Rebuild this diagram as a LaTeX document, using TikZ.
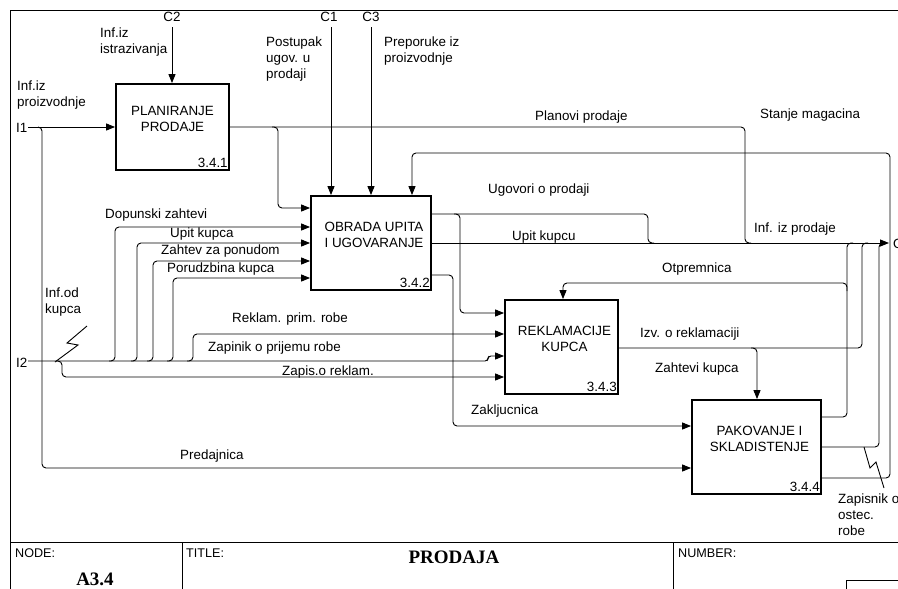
\documentclass[tikz,border=0pt]{standalone}
\usepackage{fontspec}
\setmainfont{Liberation Sans}
\newfontfamily\serifbold[BoldFont={Liberation Serif Bold}]{Liberation Serif}
\usetikzlibrary{arrows.meta,calc}

\begin{document}
\begin{tikzpicture}[x=1pt,y=-1pt,
  every node/.style={inner sep=0pt, font=\fontsize{13.4}{16}\selectfont},
  fn/.style={draw, line width=1.8pt, rectangle, minimum width=#1},
  conn/.style={line width=0.9pt, rounded corners=4pt},
  arr/.style={conn, -{Triangle[length=9pt,width=7pt]}},
  lbl/.style={anchor=base west},
  mlbl/.style={anchor=north west, align=left},
  boxtxt/.style={align=center},
  num/.style={anchor=south east},
  frameline/.style={line width=0.9pt},
  blocktxt/.style={anchor=base west, font=\fontsize{12.6}{15}\selectfont}
]
\useasboundingbox (0,0) rectangle (898,589);
\clip (0,0) rectangle (898,589);

% ---- sheet frame and title block ----
\draw[frameline] (898,10) -- (10,10) -- (10,589);
\draw[frameline] (10,542) -- (898,542);
\draw[frameline] (182,542) -- (182,589);
\draw[frameline] (673,542) -- (673,589);
\draw[frameline] (898,580) -- (846,580) -- (846,589);
\node[blocktxt] (tbNode) at (15,557) {NODE:};
\node[blocktxt] (tbTitle) at (186,557) {TITLE:};
\node[blocktxt] (tbNumber) at (678,557) {NUMBER:};
\node[anchor=base, font=\serifbold\bfseries\fontsize{19}{22}\selectfont] (tbA) at (95,585) {A3.4};
\node[anchor=base, font=\serifbold\bfseries\fontsize{19}{22}\selectfont] (tbName) at (454,563) {PRODAJA};

% ---- activity boxes ----
\node[fn=113pt, minimum height=86pt] (b1) at (172.5,127) {};
\node[fn=120pt, minimum height=94pt] (b2) at (371,243) {};
\node[fn=113pt, minimum height=94pt] (b3) at (561.5,347) {};
\node[fn=129pt, minimum height=94pt] (b4) at (756.5,447) {};

\node[boxtxt] (t1) at ([shift={(0,-8)}]b1.center) {PLANIRANJE\\PRODAJE};
\node[boxtxt] (t2) at ([shift={(3,-8)}]b2.center) {OBRADA UPITA\\I UGOVARANJE};
\node[boxtxt] (t3) at ([shift={(3,-8)}]b3.center) {REKLAMACIJE\\KUPCA};
\node[boxtxt] (t4) at ([shift={(3,-8)}]b4.center) {PAKOVANJE I\\SKLADISTENJE};

\node[num] (n1) at ([shift={(-2,-3)}]b1.south east) {3.4.1};
\node[num] (n2) at ([shift={(-2,-3)}]b2.south east) {3.4.2};
\node[num] (n3) at ([shift={(-2,-3)}]b3.south east) {3.4.3};
\node[num] (n4) at ([shift={(-2,-3)}]b4.south east) {3.4.4};

% ---- boundary points ----
\coordinate (c2in) at (172,27);
\coordinate (c1in) at (331,27);
\coordinate (c3in) at (371,27);
\coordinate (i1in) at (28,127);
\coordinate (i2in) at (28,361);
\coordinate (o1out) at (889,243);

\node[anchor=center] (lC2) at (172,17) {C2};
\node[anchor=center] (lC1) at (329,17) {C1};
\node[anchor=center] (lC3) at (371,17) {C3};
\node[lbl] (lI1) at (16,132) {I1};
\node[lbl] (lI2) at (16,367) {I2};
\node[lbl] (lO1) at (893,248) {O1};

% ---- controls ----
\draw[arr] (c2in) -- (c2in |- b1.north);
\draw[arr] (c1in) -- (c1in |- b2.north);
\draw[arr] (c3in) -- (c3in |- b2.north);

% ---- inputs I1 ----
\draw[arr] (i1in) -- (b1.west);
\draw[arr] (38,127) -- (42,127) -- (42,468) -- ($(b4.west)+(0,21)$);

% ---- outputs of 3.4.1 ----
\draw[conn] (b1.east) -- (745,127) -- (745,243) -- (751,243);
\draw[arr] (272,127) -- (278,127) -- (278,208) -- ($(b2.west)+(0,-35)$);

% ---- outputs of 3.4.2 ----
\draw[arr] (b2.east) -- (o1out);
\draw[conn] ($(b2.east)+(0,-29)$) -- (648,214) -- (648,243) -- (654,243);
\draw[arr] (454,214) -- (460,214) -- (460,313) -- ($(b3.west)+(0,-34)$);
\draw[arr] ($(b2.east)+(0,32)$) -- (453,275) -- (453,426) -- ($(b4.west)+(0,-21)$);

% ---- outputs of 3.4.3 ----
\draw[conn] ($(b3.east)+(0,1)$) -- (862,348) -- (862,243) -- (868,243);
\draw[arr] (751,348) -- (757,348) -- ($(b4.north)+(0.5,0)$);

% ---- outputs of 3.4.4 ----
\draw[conn] ($(b4.east)+(0,-30)$) -- (847,417) -- (847,243) -- (853,243);
\draw[arr] (847,291) -- (847,283) -- (563,283) -- ($(b3.north)+(1.5,0)$);
\draw[conn] (b4.east) -- (879,447) -- (879,243) -- (884,243);
\draw[arr] ($(b4.east)+(0,31)$) -- (890,478) -- (890,153) -- (412,153) -- ($(b2.north)+(41,0)$);

% ---- inputs I2 ----
\draw[arr, rounded corners=3pt] (i2in) -- (488,361) -- (488,356) -- ($(b3.west)+(0,9)$);
\draw[arr] (109,361) -- (115,361) -- (115,227) -- ($(b2.west)+(0,-16)$);
\draw[arr] (131,361) -- (137,361) -- (137,243) -- (b2.west);
\draw[arr] (147,361) -- (153,361) -- (153,261) -- ($(b2.west)+(0,18)$);
\draw[arr] (167,361) -- (173,361) -- (173,278) -- ($(b2.west)+(0,35)$);
\draw[arr] (187,361) -- (193,361) -- (193,334) -- ($(b3.west)+(0,-13)$);
\draw[arr] (56,361) -- (62,361) -- (62,377) -- ($(b3.west)+(0,30)$);

% ---- squiggles tying labels to arrows ----
\draw[line width=0.9pt] (55,362) -- (78,345) -- (67,343) -- (87,326);
\draw[line width=0.9pt] (864,447) -- (870,468) -- (876,462) -- (884,488);

% ---- arrow labels ----
\node[mlbl] (lInfIstr) at (100,28) {Inf.iz\\istrazivanja};
\node[mlbl] (lInfProiz) at (17,81) {Inf.iz\\proizvodnje};
\node[mlbl] (lPostupak) at (266,37) {Postupak\\ugov. u\\prodaji};
\node[mlbl] (lPreporuke) at (384,37) {Preporuke iz\\proizvodnje};
\node[mlbl] (lInfKupca) at (45,288) {Inf.od\\kupca};
\node[mlbl] (lZapisnik) at (838,494) {Zapisnik o\\ostec.\\robe};

\node[lbl] (lPlan) at (535,120) {Planovi prodaje};
\node[lbl] (lStanje) at (760,118) {Stanje magacina};
\node[lbl] (lUgovori) at (488,193) {Ugovori o prodaji};
\node[lbl] (lUpitKupcu) at (512,240) {Upit kupcu};
\node[lbl] (lInfProd) at (754,232) {Inf. iz prodaje};
\node[lbl] (lDopunski) at (105,218) {Dopunski zahtevi};
\node[lbl] (lUpitKupca) at (170,237) {Upit kupca};
\node[lbl] (lZahtev) at (161,254) {Zahtev za ponudom};
\node[lbl] (lPorudzbina) at (167,272) {Porudzbina kupca};
\node[lbl] (lReklam) at (232,322) {Reklam. prim. robe};
\node[lbl] (lZapinik) at (208,351) {Zapinik o prijemu robe};
\node[lbl] (lZapis) at (282,375) {Zapis.o reklam.};
\node[lbl] (lOtpremnica) at (662,272) {Otpremnica};
\node[lbl] (lIzv) at (640,337) {Izv. o reklamaciji};
\node[lbl] (lZahtevi) at (655,372) {Zahtevi kupca};
\node[lbl] (lZakljucnica) at (471,414) {Zakljucnica};
\node[lbl] (lPredajnica) at (180,459) {Predajnica};
\end{tikzpicture}
\end{document}
